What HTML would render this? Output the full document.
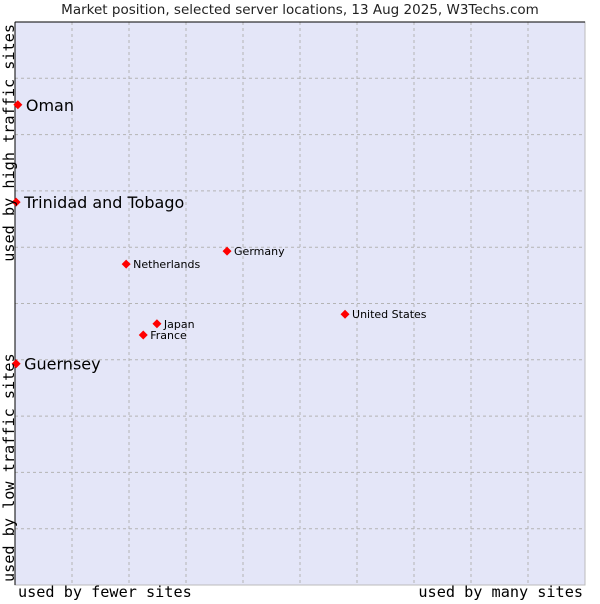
<!DOCTYPE html>
<html><head><meta charset="utf-8"><style>
body{margin:0;background:#fff;width:600px;height:600px;overflow:hidden;font-family:"DejaVu Sans","Liberation Sans",sans-serif}
</style></head><body>
<svg id="chart" width="600" height="600">
<text x="300" y="14" text-anchor="middle" font-size="13.5" fill="#222">Market position, selected server locations, 13 Aug 2025, W3Techs.com</text>
<rect x="15" y="22" width="570" height="563" fill="#e4e6f8" stroke="#bbb"/>
<g id="grid"></g>
<line x1="15" y1="22" x2="585" y2="22" stroke="#000"/>
<line x1="15" y1="22" x2="15" y2="585" stroke="#000"/>
<g id="points"></g>
<text x="18" y="597" font-family="DejaVu Sans Mono,Liberation Mono,monospace" font-size="15.2" fill="#000">used by fewer sites</text>
<text x="583" y="597" text-anchor="end" font-family="DejaVu Sans Mono,Liberation Mono,monospace" font-size="15.2" fill="#000">used by many sites</text>
<text transform="translate(14,582) rotate(-90)" font-family="DejaVu Sans Mono,Liberation Mono,monospace" font-size="15.2" fill="#000">used by low traffic sites</text>
<text transform="translate(14,24) rotate(-90)" text-anchor="end" font-family="DejaVu Sans Mono,Liberation Mono,monospace" font-size="15.2" fill="#000">used by high traffic sites</text>
</svg>
<script>
const names=["Oman","Trinidad and Tobago","Guernsey","Netherlands","Germany","United States","Japan","France"];
const xs=[0.5,0.2,0.2,19.5,37.2,57.9,24.9,22.5];
const ys=[85.3,68.0,39.3,57.0,59.3,48.1,46.4,44.4];
const big=[true,true,true,false,false,false,false,false];
const X0=15,X1=585,Y0=585,Y1=22;
const sx=v=>X0+v/100*(X1-X0), sy=v=>Y0-v/100*(Y0-Y1);
const NS="http://www.w3.org/2000/svg";
const g=document.getElementById('grid');
for(let i=1;i<10;i++){
  const v=i*10;
  let l=document.createElementNS(NS,'line');
  l.setAttribute('x1',sx(v));l.setAttribute('x2',sx(v));l.setAttribute('y1',Y1);l.setAttribute('y2',Y0);
  l.setAttribute('stroke','#b4b4b4');l.setAttribute('stroke-dasharray','3,3');
  
  
  g.appendChild(l);
  let h=document.createElementNS(NS,'line');
  h.setAttribute('y1',sy(v));h.setAttribute('y2',sy(v));h.setAttribute('x1',X0);h.setAttribute('x2',X1);
  h.setAttribute('stroke','#b4b4b4');h.setAttribute('stroke-dasharray','3,3');
  
  
  g.appendChild(h);
}
const p=document.getElementById('points');
names.forEach((n,i)=>{
  const cx=sx(xs[i]),cy=sy(ys[i]);
  const d=document.createElementNS(NS,'path');
  d.setAttribute('d',`M${cx-4.5},${cy}L${cx},${cy-4.5}L${cx+4.5},${cy}L${cx},${cy+4.5}Z`);
  d.setAttribute('fill','#f00');
  
  
  p.appendChild(d);
  const t=document.createElementNS(NS,'text');
  t.setAttribute('x',cx+(big[i]?8:7));t.setAttribute('y',cy+(big[i]?6:4));
  t.setAttribute('font-size',big[i]?16:11);t.setAttribute('fill','#000');
  t.textContent=n;
  
  
  p.appendChild(t);
});
</script>
</body></html>
